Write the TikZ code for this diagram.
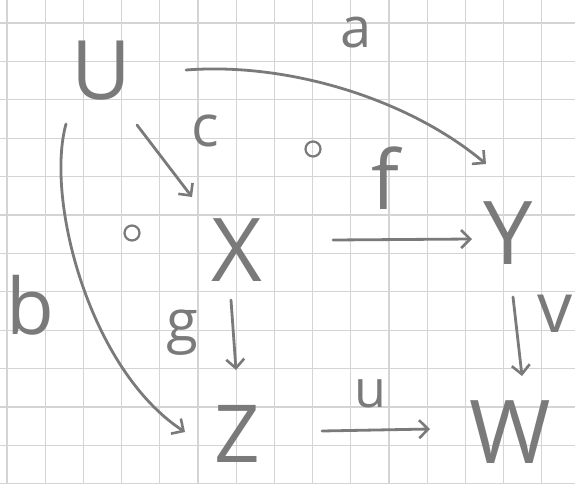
\documentclass[tikz,border=0pt]{standalone}
\usepackage{fontspec}
\setmainfont{Open Sans}
\usetikzlibrary{arrows.meta}
\definecolor{pencil}{RGB}{122,122,122}
\definecolor{gridc}{RGB}{212,212,212}
\begin{document}
\begin{tikzpicture}[x=1pt,y=-1pt,
  obj/.style={text=pencil,inner sep=0pt},
  lab/.style={text=pencil,inner sep=0pt},
  arr/.style={draw=pencil,line width=2.8pt,line cap=round,-{Straight Barb[length=9pt,width=18pt,line width=2.6pt]}},
  comp/.style={circle,draw=pencil,line width=2.2pt,minimum size=15pt,inner sep=0pt}]
\useasboundingbox (0,0) rectangle (575,484);
\fill[white] (0,0) rectangle (575,484);
\foreach \i in {0,...,15} \draw[gridc,line width=1.2pt] (7+38.2*\i,0) -- (7+38.2*\i,484);
\foreach \j in {0,...,12} \draw[gridc,line width=1.2pt] (0,23+38.4*\j) -- (575,23+38.4*\j);
% objects
\node[obj,font=\fontsize{82}{82}\selectfont] (U) at (101,71) {U};
\node[obj,font=\fontsize{88}{88}\selectfont] (X) at (237,250) {X};
\node[obj,font=\fontsize{88}{88}\selectfont] (Y) at (508,233) {Y};
\node[obj,font=\fontsize{80}{80}\selectfont] (Z) at (237,434) {Z};
\node[obj,font=\fontsize{88}{88}\selectfont] (W) at (510,432) {W};
% labels
\node[lab,font=\fontsize{56}{56}\selectfont] (la) at (356,33) {a};
\node[lab,font=\fontsize{58}{58}\selectfont] (lc) at (205,131) {c};
\node[lab,font=\fontsize{82}{82}\selectfont] (lf) at (385,178) {f};
\node[lab,font=\fontsize{58}{58}\selectfont] (lg) at (182,333) {g};
\node[lab,font=\fontsize{78}{78}\selectfont] (lb) at (30,305) {b};
\node[lab,font=\fontsize{70}{70}\selectfont] (lv) at (555,314) {v};
\node[lab,font=\fontsize{52}{52}\selectfont] (lu) at (370,394) {u};
% composition markers
\node[comp] (o1) at (132,233) {};
\node[comp] (o2) at (313,149) {};
% connector ends
\coordinate (a1) at (186,70);
\coordinate (a2) at (486,164);
\coordinate (b1) at (66,124);
\coordinate (b2) at (185,432);
\coordinate (c1) at (137,125);
\coordinate (c2) at (192,197);
\coordinate (f1) at (333,240);
\coordinate (f2) at (472,239);
\coordinate (g1) at (231,300);
\coordinate (g2) at (236,370);
\coordinate (v1) at (513,297);
\coordinate (v2) at (522,376);
\coordinate (u1) at (322,431);
\coordinate (u2) at (430,429);
% connectors
\draw[arr] (a1) .. controls (290,62) and (410,100) .. (a2);
\draw[arr] (b1) .. controls (45,200) and (90,370) .. (b2);
\draw[arr] (c1) -- (c2);
\draw[arr] (f1) -- (f2);
\draw[arr] (g1) -- (g2);
\draw[arr] (v1) -- (v2);
\draw[arr] (u1) -- (u2);
\end{tikzpicture}
\end{document}
